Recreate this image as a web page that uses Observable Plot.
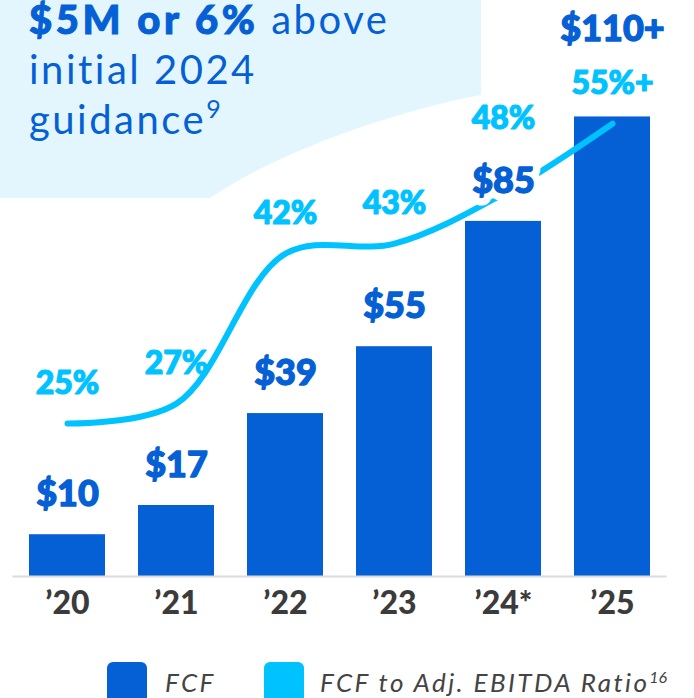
<!DOCTYPE html>
<html><head><meta charset="utf-8">
<script src="https://cdn.jsdelivr.net/npm/d3@7"></script>
<script src="https://cdn.jsdelivr.net/npm/@observablehq/plot@0.6"></script>
<style>
html,body{margin:0;padding:0;background:#fff;}
body{width:694px;height:698px;overflow:hidden;font-family:Lato,sans-serif;}
#legend{position:relative;height:48px;}
.sw{position:absolute;top:12px;width:40px;height:42px;border-radius:6px;}
.lt{position:absolute;top:16px;font-style:italic;font-size:26px;line-height:32px;color:#444;letter-spacing:2.4px;white-space:nowrap;}
.lt sup{font-size:16px;vertical-align:top;position:relative;top:-5px;letter-spacing:0;}
</style></head>
<body><div id="chart"></div><div id="legend"></div>
<script>
const years = ["\u201920", "\u201921", "\u201922", "\u201923", "\u201924*", "\u201925"];
const fcf = [10, 17, 39, 55, 85, 110];
const fcfLabels = ["$10", "$17", "$39", "$55", "$85", "$110+"];
const ratio = [25, 27, 42, 43, 48, 55];
const ratioLabels = ["25%", "27%", "42%", "43%", "48%", "55%+"];
const seriesNames = ["FCF", "FCF to Adj. EBITDA Ratio"];
const seriesNote = ["", "16"];

const BLUE = "#055fd5", CYAN = "#00c2ff", LIGHT = "#e3f6fd", INK = "#3b3b3b";

// ratio drawn on the FCF axis via a linear mapping
const toY = r => 36.6 + (r - 25) * 2.393;
const above = 9.6, gap = 14;

const data = years.map((year, i) => {
  const fNat = fcf[i] + above, rNat = toY(ratio[i]) + above;
  let fPos = fNat, rPos = rNat;
  if (Math.abs(fNat - rNat) < gap) {
    if (rNat >= fNat) rPos = fNat + gap + 1; else fPos = rNat + gap - 1;
  }
  return {year, fcf: fcf[i], fcfLabel: fcfLabels[i], ratio: ratio[i], ratioLabel: ratioLabels[i], fPos, rPos};
});

function callout() {
  const g = d3.create("svg:g");
  g.append("path").attr("d", "M0,0H481V95C400,110 280,150 210,198H0Z").attr("fill", LIGHT);
  const t = g.append("text").attr("fill", BLUE).attr("font-size", 40).attr("font-family", "Lato")
    .attr("letter-spacing", 2.5).attr("text-anchor", "start");
  t.append("tspan").attr("font-weight", 900).attr("stroke", BLUE).attr("stroke-width", 1)
    .attr("letter-spacing", 3.6).text("$5M or 6%").attr("x", 29).attr("y", 34);
  t.append("tspan").text(" above");
  t.append("tspan").attr("x", 29).attr("y", 84).text("initial 2024");
  t.append("tspan").attr("x", 29).attr("y", 134).text("guidance");
  t.append("tspan").attr("font-size", 25).attr("dy", -16).text("9");
  return g.node();
}

const chart = Plot.plot({
  width: 694,
  height: 650,
  marginLeft: 12.5,
  marginRight: 27.5,
  marginTop: 12,
  marginBottom: 74,
  style: {fontFamily: "Lato, sans-serif", background: "transparent", overflow: "visible"},
  x: {domain: years, paddingInner: 0.3, paddingOuter: 0.15, label: null},
  y: {domain: [0, 135], axis: null},
  marks: [
    callout,
    Plot.barY(data, {x: "year", y: "fcf", fill: BLUE}),
    Plot.ruleY([0], {stroke: "#dcdcdc", strokeWidth: 2}),
    Plot.text(data, {x: "year", y: "rPos", text: "ratioLabel", fill: CYAN, stroke: CYAN, strokeWidth: 1.2, fontSize: 32, fontWeight: 900}),
    Plot.line(data, {x: "year", y: d => toY(d.ratio), curve: "catmull-rom", stroke: CYAN, strokeWidth: 6, strokeLinecap: "round"}),
    Plot.text(data, {x: "year", y: "fPos", text: "fcfLabel", fill: "white", fontSize: 36, fontWeight: 900, stroke: "white", strokeWidth: 16, strokeLinejoin: "round"}),
    Plot.text(data, {x: "year", y: "fPos", text: "fcfLabel", fill: BLUE, fontSize: 36, fontWeight: 900, stroke: BLUE, strokeWidth: 1.3}),
    Plot.axisX({tickSize: 0, tickPadding: 15, fontSize: 32, fontWeight: 900, fill: INK, stroke: INK, strokeWidth: 1, label: null})
  ]
});
document.getElementById("chart").appendChild(chart);

const legend = document.getElementById("legend");
const swLeft = [107, 264], txtLeft = [165, 320], colors = [BLUE, CYAN];
seriesNames.forEach((name, i) => {
  const sw = document.createElement("div");
  sw.className = "sw"; sw.style.left = swLeft[i] + "px"; sw.style.background = colors[i];
  legend.appendChild(sw);
  const lt = document.createElement("div");
  lt.className = "lt"; lt.style.left = txtLeft[i] + "px";
  lt.textContent = name;
  if (seriesNote[i]) { const s = document.createElement("sup"); s.textContent = seriesNote[i]; lt.appendChild(s); }
  legend.appendChild(lt);
});
</script>
</body></html>
